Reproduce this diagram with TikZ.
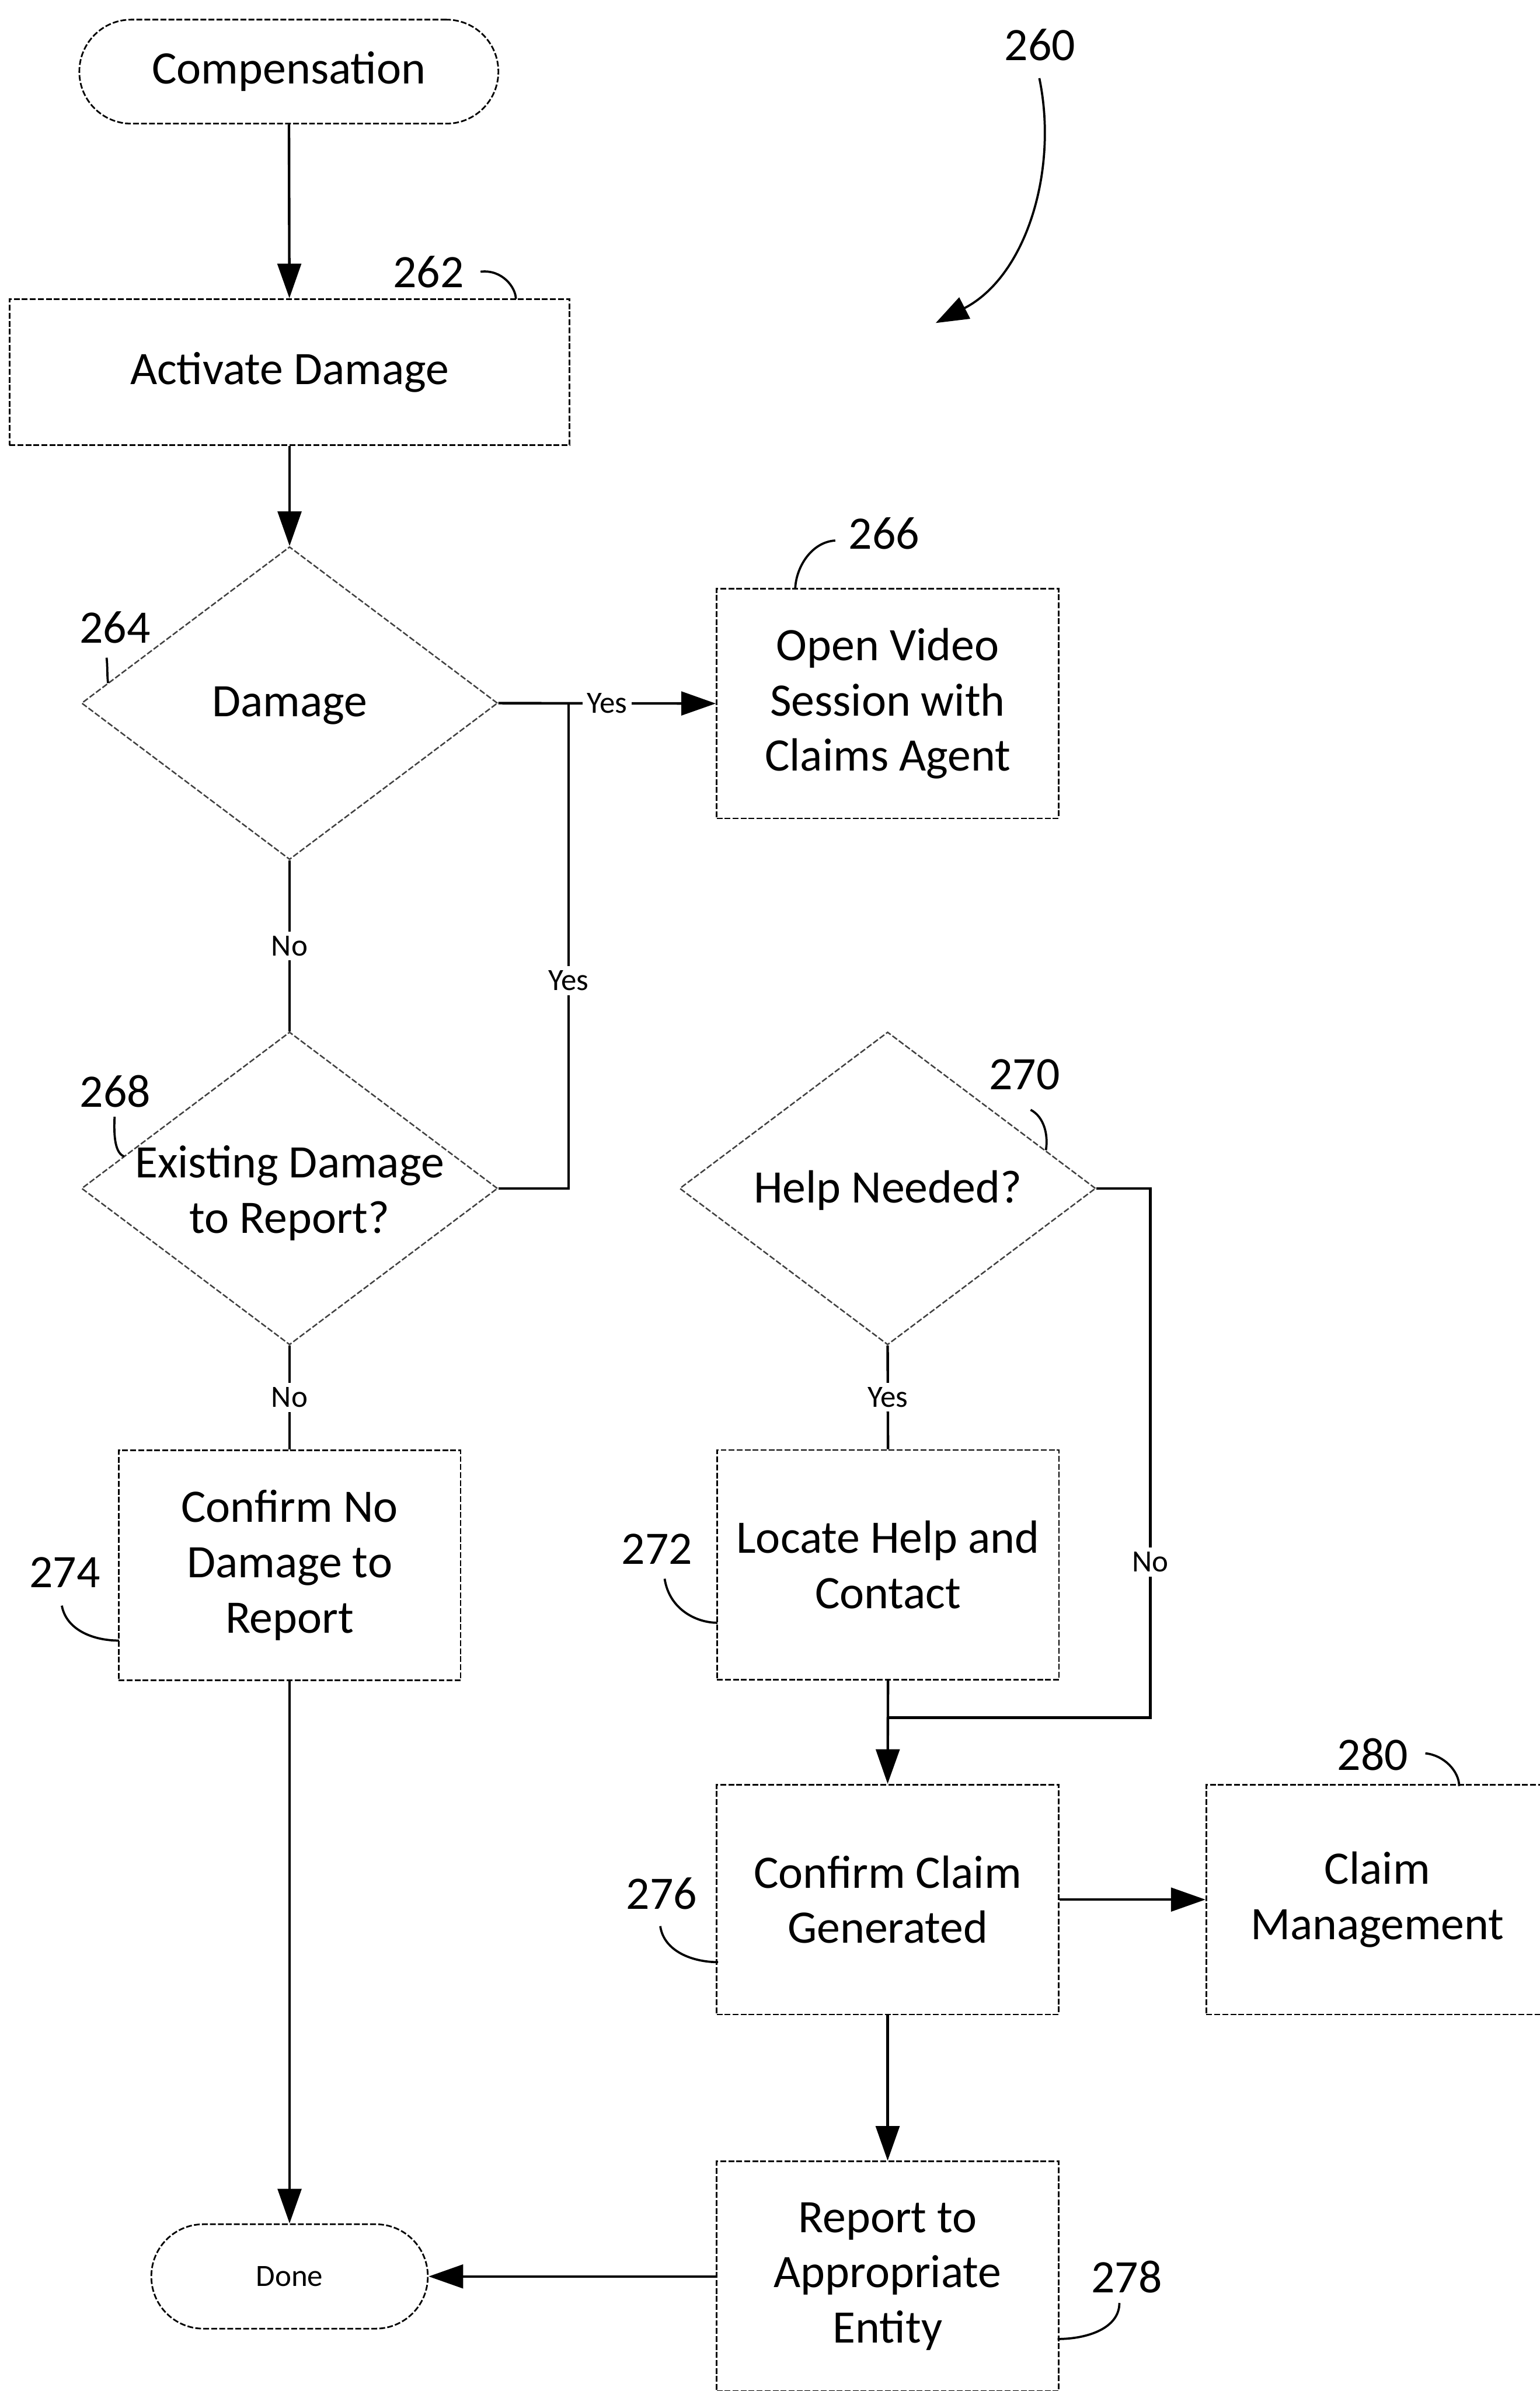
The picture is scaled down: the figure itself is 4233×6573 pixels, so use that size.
\documentclass[tikz,border=0pt]{standalone}
\usepackage{fontspec}
\setmainfont{Carlito}
\usetikzlibrary{shapes.geometric,arrows.meta}

\begin{document}
\begin{tikzpicture}[x=0.1pt,y=-0.1pt,
  every node/.style={font=\fontsize{12.8}{15.2}\selectfont},
  outline/.style={draw, line width=0.45pt, dash pattern=on 1.6pt off 0.6pt},
  box/.style={outline, minimum width=94pt, minimum height=63.2pt, inner sep=0pt, align=center},
  term/.style={outline, rounded corners=14.3pt, inner sep=0pt},
  decision/.style={diamond, draw=black!75, line width=0.4pt, dash pattern=on 1.6pt off 0.6pt,
                   minimum width=114.4pt, minimum height=86pt, inner sep=0pt},
  link/.style={line width=0.7pt},
  flow/.style={link, -{Triangle[length=9.5pt,width=6.5pt]}},
  tag/.style={font=\fontsize{8.5}{10}\selectfont, fill=white, inner sep=1.2pt},
  num/.style={inner sep=0pt},
  lead/.style={line width=0.6pt}
]
\useasboundingbox (0,0) rectangle (4233,6573);

% ---- left column ----
\node[term, minimum width=115.2pt, minimum height=28.6pt] (comp) at (794,197) {Compensation};
\node[box, minimum width=154pt, minimum height=40.2pt] (act) at (796,1023) {Activate Damage};
\node[decision] (dmg) at (796,1933) {};
\node at (796,1940) {Damage};
\node[decision] (exist) at (796,3267) {};
\node[align=center] at (796,3280) {Existing Damage\\to Report?};
\node[box] (nodmg) at (796,4303) {Confirm No\\Damage to\\Report};
\node[term, minimum width=76pt, minimum height=28.7pt, font=\fontsize{8.5}{10}\selectfont] (done) at (796,6258) {Done};

% ---- right column ----
\node[box] (video) at (2440,1934) {Open Video\\Session with\\Claims Agent};
\node[decision] (help) at (2440,3267) {};
\node at (2440,3272) {Help Needed?};
\node[box] (locate) at (2441,4302) {Locate Help and\\Contact};
\node[box] (claim) at (2440,5222) {Confirm Claim\\Generated};
\node[box] (mgmt) at (3786,5222) {Claim\\Management};
\node[box] (report) at (2440,6258) {Report to\\Appropriate\\Entity};

% ---- junction points ----
\coordinate (j1) at (1563,1933);
\coordinate (j2) at (2440,4722);

% ---- connectors ----
\draw[flow] (comp) -- (act);
\draw[flow] (act) -- (dmg);
\draw[flow] (dmg.east) -- (video.west) node[tag, pos=0.5] {Yes};
\draw[link] (exist.east) -| (j1) node[tag, pos=0.714] {Yes};
\draw[link] (dmg.south) -- (exist.north) node[tag, pos=0.5] {No};
\draw[link] (exist.south) -- (nodmg.north) node[tag, pos=0.5] {No};
\draw[flow] (nodmg.south) -- (done.north);
\draw[link] (help.south) -- (locate.north) node[tag, pos=0.5] {Yes};
\draw[link] (help.east) -- ++(148,0) |- (j2) node[tag, pos=0.353] {No};
\draw[flow] (locate.south) -- (claim.north);
\draw[flow] (claim.east) -- (mgmt.west);
\draw[flow] (claim.south) -- (report.north);
\draw[flow] (report.west) -- (done.east);

% ---- reference numerals ----
\node[num] (n260) at (2859,124) {260};
\draw[lead, -{Triangle[length=9pt,width=6.5pt]}] (2857,215) .. controls (2910,470) and (2820,760) .. (2572,888);

\node[num] (n262) at (1178,747) {262};
\draw[lead] (1321,747) .. controls (1380,740) and (1418,790) .. (1418,822);

\node[num] (n264) at (316,1725) {264};
\draw[lead] (293,1808) .. controls (296,1835) and (294,1855) .. (297,1878);

\node[num] (n266) at (2430,1466) {266};
\draw[lead] (2296,1486) .. controls (2230,1490) and (2188,1560) .. (2186,1618);

\node[num] (n268) at (317,3000) {268};
\draw[lead] (315,3070) .. controls (312,3130) and (318,3170) .. (341,3179);

\node[num] (n270) at (2816,2954) {270};
\draw[lead] (2833,3051) .. controls (2870,3070) and (2882,3120) .. (2875,3162);

\node[num] (n272) at (1806,4258) {272};
\draw[lead] (1827,4340) .. controls (1840,4425) and (1915,4461) .. (1972,4461);

\node[num] (n274) at (178,4322) {274};
\draw[lead] (170,4414) .. controls (182,4480) and (255,4510) .. (327,4510);

\node[num] (n276) at (1819,5205) {276};
\draw[lead] (1815,5295) .. controls (1825,5365) and (1905,5394) .. (1974,5394);

\node[num] (n278) at (3097,6260) {278};
\draw[lead] (3077,6331) .. controls (3077,6400) and (2990,6430) .. (2907,6430);

\node[num] (n280) at (3773,4823) {280};
\draw[lead] (3918,4820) .. controls (3970,4825) and (4011,4870) .. (4011,4910);
\end{tikzpicture}
\end{document}
